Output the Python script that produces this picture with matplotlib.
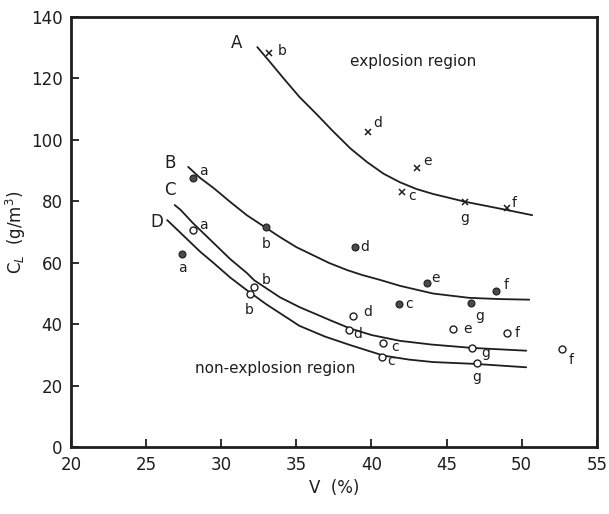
import matplotlib.pyplot as plt

# curves (V %, C_L g/m3)
curve_a_v = [32.4, 33.2, 34.1, 35.2, 36.4, 37.4, 38.6, 39.7, 40.8, 41.9, 43.0, 44.1, 45.2, 46.2, 49.0, 50.7]
curve_a_c = [130.2, 125.6, 120.3, 114.0, 108.1, 103.0, 97.2, 92.8, 89.0, 86.2, 84.0, 82.4, 81.1, 79.9, 77.2, 75.5]
curve_b_v = [27.8, 28.6, 29.5, 30.6, 31.7, 33.0, 33.9, 35.0, 36.1, 37.2, 38.4, 39.4, 40.6, 41.9, 44.1, 46.5, 48.5, 50.5]
curve_b_c = [91.2, 87.6, 84.3, 79.8, 75.5, 71.3, 68.4, 65.1, 62.5, 59.9, 57.6, 56.0, 54.4, 52.5, 50.0, 48.6, 48.2, 48.0]
curve_c_v = [26.9, 27.3, 28.1, 29.5, 30.6, 31.7, 32.2, 33.9, 35.2, 37.4, 38.6, 40.0, 41.9, 44.0, 46.7, 50.3]
curve_c_c = [78.8, 77.2, 73.0, 66.4, 61.2, 56.7, 54.3, 48.8, 45.6, 41.0, 38.6, 36.5, 34.6, 33.4, 32.3, 31.4]
curve_d_v = [26.4, 27.3, 28.6, 29.5, 30.6, 31.7, 33.0, 35.2, 36.9, 38.6, 40.8, 42.5, 44.1, 46.9, 50.3]
curve_d_c = [73.9, 69.7, 63.6, 59.9, 55.2, 51.1, 46.5, 39.5, 36.0, 33.2, 29.8, 28.5, 27.7, 27.1, 26.0]

# explosion points (x markers)
pts_x_v = [33.2, 39.8, 43.0, 42.0, 46.2, 49.0]
pts_x_c = [128.3, 102.6, 90.9, 83.0, 79.8, 77.8]
pts_x_lab = ['b', 'd', 'e', 'c', 'g', 'f']
pts_x_off = [(13, 2), (9, 9), (11, 7), (11, -4), (0, -16), (7, 5)]

# filled points
pts_f_v = [28.1, 33.0, 38.9, 43.7, 41.8, 48.3, 46.6, 27.4]
pts_f_c = [87.6, 71.6, 65.1, 53.4, 46.6, 50.8, 46.9, 62.8]
pts_f_lab = ['a', 'b', 'd', 'e', 'c', 'f', 'g', 'a']
pts_f_off = [(11, 7), (0, -17), (10, 0), (8, 5), (11, 0), (10, 6), (9, -13), (0, -14)]

# open points
pts_o_v = [28.1, 32.2, 31.9, 38.5, 38.8, 40.8, 40.7, 45.4, 49.0, 46.7, 47.0, 52.7]
pts_o_c = [70.7, 52.1, 49.8, 38.1, 42.7, 33.9, 29.3, 38.4, 37.1, 32.2, 27.4, 31.9]
pts_o_lab = ['a', 'b', 'b', 'd', 'd', 'c', 'c', 'e', 'f', 'g', 'g', 'f']
pts_o_off = [(11, 5), (12, 7), (-1, -16), (9, -4), (14, 4), (12, -4), (9, -4),
             (15, 0), (10, 0), (14, -5), (0, -14), (9, -11)]

col = '#1e1e1e'
fig = plt.figure(figsize=(6.09, 5.14), dpi=100)
ax = fig.add_axes([0.1166, 0.130, 0.8634, 0.837])

for v, c in [(curve_a_v, curve_a_c), (curve_b_v, curve_b_c),
             (curve_c_v, curve_c_c), (curve_d_v, curve_d_c)]:
    ax.plot(v, c, color=col, lw=1.3, solid_capstyle='round', solid_joinstyle='round')

ax.plot(pts_x_v, pts_x_c, 'x', color=col, ms=5, mew=1.1)
ax.plot(pts_f_v, pts_f_c, 'o', color='#4a4a4a', mec=col, ms=5, mew=0.8)
ax.plot(pts_o_v, pts_o_c, 'o', mfc='white', mec=col, ms=5, mew=1.0)

for vs, cs, labs, offs in [(pts_x_v, pts_x_c, pts_x_lab, pts_x_off),
                           (pts_f_v, pts_f_c, pts_f_lab, pts_f_off),
                           (pts_o_v, pts_o_c, pts_o_lab, pts_o_off)]:
    for v, c, lab, off in zip(vs, cs, labs, offs):
        ax.annotate(lab, (v, c), xytext=off, textcoords='offset pixels',
                    ha='center', va='center', fontsize=10, color=col)

for lab, v, c in [('A', 31.0, 131.5), ('B', 26.6, 92.5), ('C', 26.6, 83.7), ('D', 25.7, 73.3)]:
    ax.text(v, c, lab, ha='center', va='center', fontsize=12, color=col)

ax.text(42.75, 125.4, 'explosion region', ha='center', va='center', fontsize=11, color=col)
ax.text(33.6, 25.7, 'non-explosion region', ha='center', va='center', fontsize=11, color=col)

ax.set_xlim(20, 55)
ax.set_ylim(0, 140)
ax.set_xticks(range(20, 56, 5))
ax.set_yticks(range(0, 141, 20))
ax.tick_params(direction='in', length=6, width=1.3, labelsize=12, colors=col, pad=6)
for s in ax.spines.values():
    s.set_linewidth(2)
    s.set_color(col)

ax.set_xlabel('V  (%)', fontsize=12, color=col, labelpad=4)
ax.set_ylabel('C$_L$  (g/m$^3$)', fontsize=12, color=col, labelpad=2)

fig.savefig('out.png', dpi=100)
